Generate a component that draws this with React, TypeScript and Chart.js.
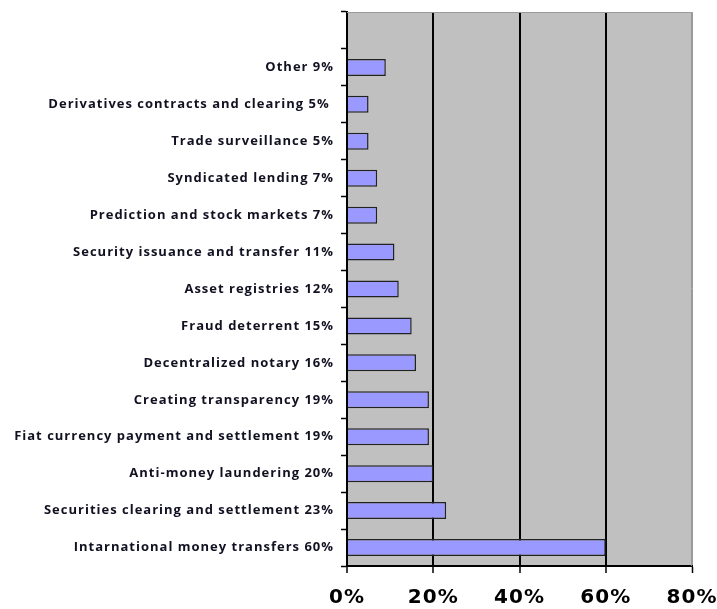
import React, { useEffect, useRef } from "react";
import { Chart, registerables } from "chart.js";

Chart.register(...registerables);

const categories: string[] = [
  "",
  "Other 9%",
  "Derivatives contracts and clearing 5% ",
  "Trade surveillance 5%",
  "Syndicated lending 7%",
  "Prediction and stock markets 7%",
  "Security issuance and transfer 11%",
  "Asset registries 12%",
  "Fraud deterrent 15%",
  "Decentralized notary 16%",
  "Creating transparency 19%",
  "Fiat currency payment and settlement 19%",
  "Anti-money laundering 20%",
  "Securities clearing and settlement 23%",
  "Intarnational money transfers 60%",
];

const values: (number | null)[] = [null, 9, 5, 5, 7, 7, 11, 12, 15, 16, 19, 19, 20, 23, 60];

const xTicks: number[] = [0, 20, 40, 60, 80];

const bgPlugin = {
  id: "plotBg",
  beforeDraw(chart: any) {
    const { ctx, chartArea } = chart;
    if (!chartArea) return;
    ctx.save();
    ctx.fillStyle = "#C0C0C0";
    ctx.fillRect(chartArea.left, chartArea.top, chartArea.right - chartArea.left, chartArea.bottom - chartArea.top);
    ctx.restore();
    try {
      ctx.letterSpacing = "1px";
    } catch (e) {}
  },
  afterDatasetsDraw(chart: any) {
    const { ctx, chartArea } = chart;
    ctx.save();
    ctx.strokeStyle = "#9a9a9a";
    ctx.lineWidth = 1;
    ctx.beginPath();
    ctx.moveTo(chartArea.left, chartArea.top + 0.5);
    ctx.lineTo(chartArea.right - 0.5, chartArea.top + 0.5);
    ctx.lineTo(chartArea.right - 0.5, chartArea.bottom);
    ctx.stroke();
    ctx.restore();
  },
  afterDraw(chart: any) {
    try {
      chart.ctx.letterSpacing = "0px";
    } catch (e) {}
  },
};

export default function App() {
  const ref = useRef<HTMLCanvasElement | null>(null);
  useEffect(() => {
    if (!ref.current) return;
    const chart = new Chart(ref.current, {
      type: "bar",
      data: {
        labels: categories,
        datasets: [
          {
            data: values,
            backgroundColor: "#9999FF",
            borderColor: "#222222",
            borderWidth: 1.5,
            borderSkipped: "left",
            categoryPercentage: 1,
            barPercentage: 0.46,
          },
        ],
      },
      plugins: [bgPlugin],
      options: {
        indexAxis: "y",
        animation: false,
        responsive: false,
        maintainAspectRatio: false,
        layout: { padding: { top: 12, right: 25, left: 0, bottom: 0 } },
        plugins: { legend: { display: false }, tooltip: { enabled: false } },
        scales: {
          x: {
            min: 0,
            max: 80,
            afterBuildTicks(scale: any) {
              scale.ticks = xTicks.map((v) => ({ value: v }));
            },
            afterFit(scale: any) {
              scale.height = 43;
              scale.paddingLeft = 0;
              scale.paddingRight = 0;
            },
            grid: {
              color: (c: any) => (c.tick && c.tick.value === 80 ? "#9a9a9a" : c.tick && c.tick.value === 0 ? "rgba(0,0,0,0)" : "#000000"),
              lineWidth: (c: any) => (c.tick && c.tick.value === 80 ? 1 : 2),
              tickColor: "#000000",
              tickLength: 7,
              tickWidth: 1.5,
            },
            border: { color: "#000000", width: 2 },
            ticks: {
              padding: 13,
              color: "#000000",
              font: { family: "DejaVu Sans", weight: "bold", size: 20 },
              callback: (v: any) => v + "%",
              maxRotation: 0,
            },
          },
          y: {
            afterFit(scale: any) {
              scale.width = 347;
              scale.paddingTop = 0;
              scale.paddingBottom = 0;
            },
            grid: {
              offset: true,
              drawOnChartArea: false,
              tickColor: "#000000",
              tickLength: 6,
              tickWidth: 1.5,
            },
            border: { color: "#000000", width: 2 },
            ticks: {
              padding: 7,
              color: "#111122",
              autoSkip: false,
              font: { family: "Open Sans", weight: "bold", size: 13 },
            },
          },
        },
      },
    } as any);
    return () => chart.destroy();
  }, []);
  return (
    <div style={{ position: "fixed", left: 0, top: 0, width: 717, height: 609, background: "#fff" }}>
      <canvas ref={ref} width={717} height={609} style={{ width: 717, height: 609 }} />
    </div>
  );
}
